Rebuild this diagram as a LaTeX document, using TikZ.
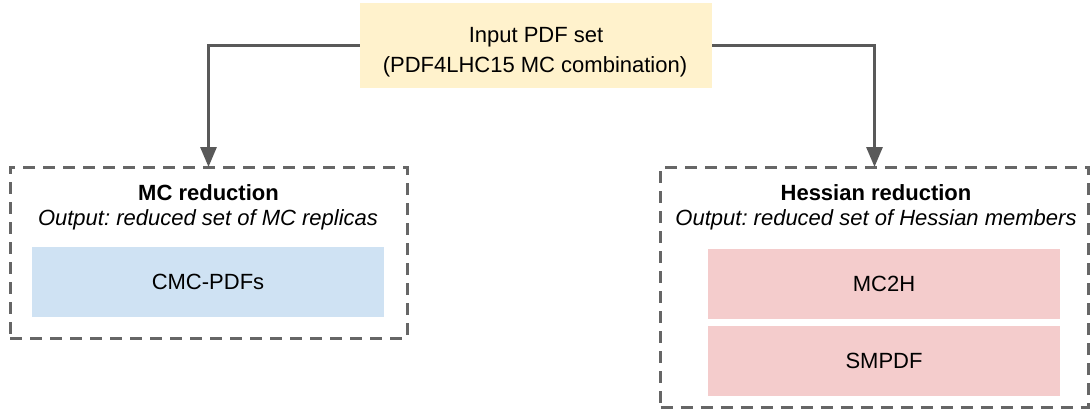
\documentclass[tikz,border=0pt]{standalone}
\usepackage{fontspec}
\setmainfont{Liberation Sans}
\usetikzlibrary{arrows.meta}
\definecolor{inyellow}{HTML}{FFF2CC}
\definecolor{mcblue}{HTML}{CFE2F3}
\definecolor{hesspink}{HTML}{F4CCCC}
\definecolor{linegray}{HTML}{595959}
\definecolor{dashgray}{HTML}{666666}
\frenchspacing
\begin{document}
\begin{tikzpicture}[x=1pt,y=-1pt,
  every node/.style={font=\fontsize{22}{26}\selectfont, text=black},
  inbox/.style={fill=inyellow, draw=none, minimum width=352pt, minimum height=85pt, inner sep=0pt},
  line/.style={anchor=base, inner sep=0pt},
  groupbox/.style={draw=dashgray, line width=3pt, dash pattern=on 12pt off 8pt, outer sep=0pt, inner sep=0pt},
  method/.style={draw=none, minimum width=352pt, minimum height=70pt, inner sep=0pt},
  title/.style={anchor=base, inner sep=0pt, font=\fontsize{22}{26}\selectfont\bfseries},
  subtitle/.style={anchor=base, inner sep=0pt, font=\fontsize{22}{26}\selectfont\itshape},
  arr/.style={draw=linegray, line width=3pt, -{Triangle[length=20pt,width=16pt]}}
]
\useasboundingbox (0,0) rectangle (1090,410);
\node[inbox] (input) at (536,45.5) {};
\node[line] (inputa) at (536,42) {Input PDF set};
\node[line] (inputb) at (535,72) {(PDF4LHC15 MC combination)};
\node[groupbox, minimum width=397pt, minimum height=171pt] (mcgroup) at (208.5,252.5) {};
\node[groupbox, minimum width=428pt, minimum height=240pt] (hessgroup) at (874.5,287) {};
\node[title] (mctitle) at (208.5,200) {MC reduction};
\node[subtitle] (mcsub) at (208,225) {Output: reduced set of MC replicas};
\node[method, fill=mcblue] (cmc) at (208,282) {CMC-PDFs};
\node[title] (hesstitle) at (876,200) {Hessian reduction};
\node[subtitle] (hesssub) at (876,225) {Output: reduced set of Hessian members};
\node[method, fill=hesspink] (mc2h) at (884,283.5) {MC2H};
\node[method, fill=hesspink] (smpdf) at (884,360.5) {SMPDF};
\draw[arr] (input.west) -| (mcgroup.north);
\draw[arr] (input.east) -| (hessgroup.north);
\end{tikzpicture}
\end{document}
